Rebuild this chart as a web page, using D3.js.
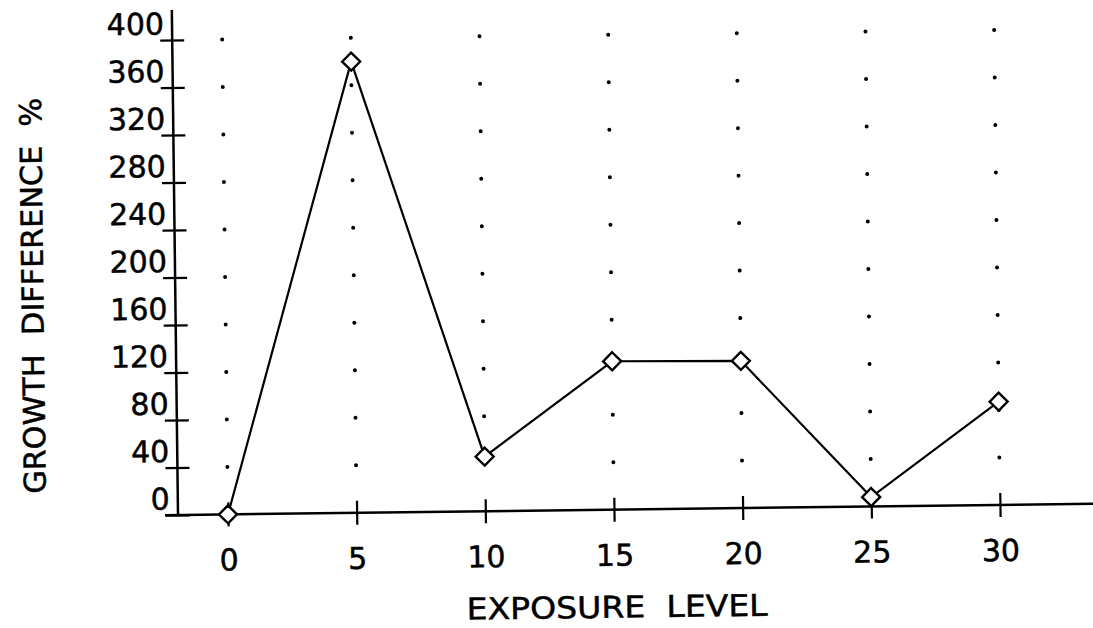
<!DOCTYPE html>
<html>
<head>
<meta charset="utf-8">
<script src="https://cdn.jsdelivr.net/npm/d3@7"></script>
<style>
  html, body { margin: 0; padding: 0; background: #fff; }
  svg { display: block; }
  text { font-family: "DejaVu Sans", sans-serif; fill: #000; stroke: #000; stroke-width: 0.5px; }
</style>
</head>
<body>
<svg id="chart" width="1093" height="628"></svg>
<script>
// Data
const exposure = [0, 5, 10, 15, 20, 25, 30];
const growthDiff = [0, 380, 46, 125, 124, 8, 87];
const xTicks = [0, 5, 10, 15, 20, 25, 30];
const yTicks = [0, 40, 80, 120, 160, 200, 240, 280, 320, 360, 400];
const gridX = [0, 5, 10, 15, 20, 25, 30];
const gridY = [40, 80, 120, 160, 200, 240, 280, 320, 360, 400];
const xTitle = "EXPOSURE  LEVEL";
const yTitle = "GROWTH  DIFFERENCE  %";

const svg = d3.select("#chart");
const g = svg.append("g").attr("transform", "translate(178,515) rotate(-0.7)");

const x = d3.scaleLinear().domain([0, 30]).range([50, 822]);
const y = d3.scaleLinear().domain([0, 400]).range([0, -475]);

// dotted grid
const grid = [];
gridX.forEach(gx => gridY.forEach(gy => grid.push([gx, gy])));
g.append("g").selectAll("circle").data(grid).join("circle")
  .attr("cx", d => x(d[0])).attr("cy", d => y(d[1])).attr("r", 2).attr("fill", "#000");

// axis lines
g.append("line").attr("x1", -13).attr("x2", 930).attr("y1", 0).attr("y2", 0)
  .attr("stroke", "#000").attr("stroke-width", 2.5);
g.append("line").attr("x1", 0).attr("x2", 0).attr("y1", 1).attr("y2", -505)
  .attr("stroke", "#000").attr("stroke-width", 2.5);

// y axis
const yAxis = g.append("g").call(d3.axisLeft(y).tickValues(yTicks).tickSize(12).tickFormat(d3.format("d")));
yAxis.select(".domain").remove();
yAxis.selectAll(".tick line").attr("x1", -12).attr("x2", 12).attr("stroke", "#000").attr("stroke-width", 2.2);
yAxis.selectAll(".tick text").attr("x", -8).attr("y", -6).attr("dy", null)
  .attr("text-anchor", "end").style("font-size", "30px").style("font-family", "DejaVu Sans, sans-serif");

// x axis
const xAxis = g.append("g").call(d3.axisBottom(x).tickValues(xTicks).tickSize(12).tickFormat(d3.format("d")));
xAxis.select(".domain").remove();
xAxis.selectAll(".tick line").attr("y1", -12).attr("y2", 12).attr("stroke", "#000").attr("stroke-width", 2.2);
xAxis.selectAll(".tick text").attr("y", 56).attr("dy", null)
  .style("font-size", "30px").style("font-family", "DejaVu Sans, sans-serif");
g.selectAll(".tick text").attr("fill", "#000");

// line
const pts = exposure.map((e, i) => [e, growthDiff[i]]);
g.append("path").datum(pts)
  .attr("d", d3.line().x(d => x(d[0])).y(d => y(d[1])))
  .attr("fill", "none").attr("stroke", "#000").attr("stroke-width", 2.2);

// diamond markers
const r = 9;
g.append("g").selectAll("path").data(pts).join("path")
  .attr("d", d => {
    const cx = x(d[0]), cy = y(d[1]);
    return `M${cx},${cy - r}L${cx + r},${cy}L${cx},${cy + r}L${cx - r},${cy}Z`;
  })
  .attr("fill", "#fff").attr("stroke", "#000").attr("stroke-width", 2.4);

// titles
g.append("text").attr("x", 438).attr("y", 108).attr("text-anchor", "middle")
  .attr("textLength", 301).attr("lengthAdjust", "spacingAndGlyphs")
  .style("font-size", "30px").style("white-space", "pre").text(xTitle);
g.append("text").attr("transform", "translate(-132,-221) rotate(-90)")
  .attr("text-anchor", "middle")
  .attr("textLength", 396).attr("lengthAdjust", "spacingAndGlyphs")
  .style("font-size", "30px").style("white-space", "pre").text(yTitle);
</script>
</body>
</html>
